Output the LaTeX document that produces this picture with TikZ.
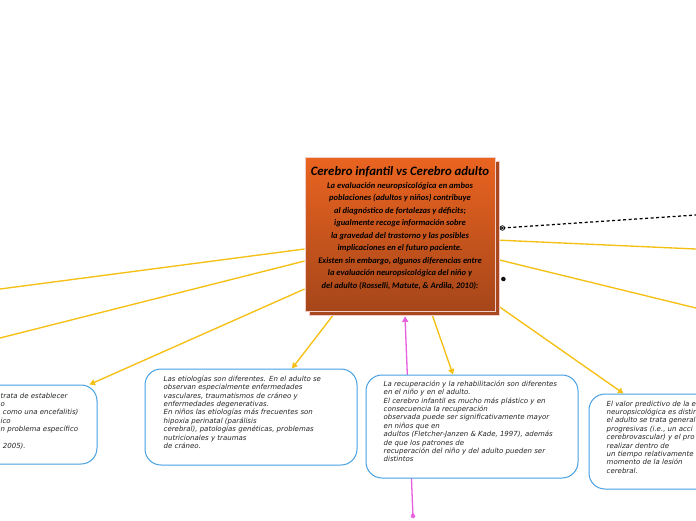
\documentclass[tikz,border=0pt]{standalone}
\usepackage{fontspec}
\setmainfont{DejaVu Sans}
\newfontfamily\handfont{Carlito}
\usetikzlibrary{calc,arrows.meta,shadows}
\pgfdeclarelayer{bgfill}
\pgfdeclarelayer{background}
\pgfsetlayers{bgfill,background,main}
\definecolor{yline}{RGB}{245,192,20}
\definecolor{pline}{RGB}{232,95,222}
\definecolor{bbord}{RGB}{70,160,225}
\definecolor{otop}{RGB}{234,100,32}
\definecolor{obot}{RGB}{166,70,26}
\definecolor{shad}{RGB}{168,72,30}
\definecolor{sbord}{RGB}{242,205,200}
\begin{document}
\begin{tikzpicture}[x=1pt,y=-1pt,
  yconn/.style={draw=yline, line width=1.35pt},
  yarrow/.style={yconn, -{Triangle[length=5.5pt,width=6pt]}},
  parrow/.style={draw=pline, line width=1.3pt, -{Triangle[length=5.5pt,width=6pt]}},
  dconn/.style={draw=black, line width=1.25pt, dash pattern=on 3pt off 2.5pt},
  infobox/.style={draw=bbord, line width=1pt, rounded corners=16pt, fill=white, inner sep=0pt},
  infotext/.style={font=\fontsize{7}{8.4}\selectfont\itshape, text=black!85, align=left, anchor=north west, inner sep=0pt},
  mainbox/.style={draw=sbord, line width=0.8pt, top color=otop, bottom color=obot, minimum width=190pt, minimum height=154pt, inner sep=0pt,
    general shadow={shadow xshift=4pt, shadow yshift=-4pt, fill=shad, draw=sbord, line width=0.8pt}},
  maintext/.style={align=center, inner sep=0pt, text=black, font=\handfont\bfseries\itshape\fontsize{8.5}{12.5}\selectfont},
]
\useasboundingbox (0,0) rectangle (696,520);
\clip (0,0) rectangle (696,520);
\begin{pgfonlayer}{bgfill}
\fill[white] (0,0) rectangle (696,520);
\end{pgfonlayer}

% central node
\node[mainbox] (main) at (400,234) {};
\node[maintext] (mt) at ($(main.center)+(0,-6)$) {{\fontsize{12.8}{14}\selectfont Cerebro infantil vs Cerebro adulto}\\[0.5pt]
La evaluación neuropsicológica en ambos\\
poblaciones (adultos y niños) contribuye\\
al diagnóstico de fortalezas y déficits;\\
igualmente recoge información sobre\\
la gravedad del trastorno y las posibles\\
implicaciones en el futuro paciente.\\
Existen sin embargo, algunos diferencias entre\\
la evaluación neuropsicológica del niño y\\
del adulto (Rosselli, Matute, \& Ardila, 2010):};

% boxes
\node[infobox, minimum width=227pt, minimum height=79pt] (b1) at (-16.5,424.5) {};
\node[infobox, minimum width=212pt, minimum height=96pt] (b2) at (251,417) {};
\node[infobox, minimum width=212pt, minimum height=103pt] (b3) at (472,426.5) {};
\node[infobox, minimum width=211pt, minimum height=95pt] (b4) at (694.5,441.5) {};

\node[infotext] (t1) at ($(b1.north east)+(-97,8)$) {trata de establecer\\o\\ \ como una encefalitis)\\ico\\n problema específico\\ \\ \ 2005).};
\node[infotext] (t2) at ($(b2.north west)+(19,7)$) {Las etiologías son diferentes. En el adulto se\\
observan especialmente enfermedades\\
vasculares, traumatismos de cráneo y\\
enfermedades degenerativas.\\
En niños las etiologías más frecuentes son\\
hipoxia perinatal (parálisis\\
cerebral), patologías genéticas, problemas\\
nutricionales y traumas\\
de cráneo.};
\node[infotext] (t3) at ($(b3.north west)+(18,6)$) {La recuperación y la rehabilitación son diferentes\\
en el niño y en el adulto.\\
El cerebro infantil es mucho más plástico y en\\
consecuencia la recuperación\\
observada puede ser significativamente mayor\\
en niños que en\\
adultos (Fletcher-Janzen \& Kade, 1997), además\\
de que los patrones de\\
recuperación del niño y del adulto pueden ser\\
distintos};
\node[infotext] (t4) at ($(b4.north west)+(18,7)$) {El valor predictivo de la e\\
neuropsicológica es distin\\
el adulto se trata general\\
progresivas (i.e., un acci\\
cerebrovascular) y el pro\\
realizar dentro de\\
un tiempo relativamente\\
momento de la lesión\\
cerebral.};

% free ends
\coordinate (e1) at (0,289);
\coordinate (e2) at (0,338);
\coordinate (e7) at (696,249);
\coordinate (e8) at (696,308);
\coordinate (ed) at (696,215);
\coordinate (pk) at (413,517);

\begin{pgfonlayer}{background}
  \draw[yconn] ($(main.west)+(0,15)$) -- (e1);
  \draw[yconn] ($(main.west)+(0,27)$) -- (e2);
  \draw[yarrow] ($(main.west)+(0,55)$) -- ($(b1.north east)+(-8,0)$);
  \draw[yarrow] ($(main.south)+(-64,0)$) -- ($(b2.north)+(41,0)$);
  \draw[yarrow] ($(main.south)+(31,0)$) -- ($(b3.north)+(-19,0)$);
  \draw[yarrow] ($(main.east)+(0,70)$) -- ($(b4.north west)+(35,0)$);
  \draw[yconn] ($(main.east)+(0,6)$) -- (e7);
  \draw[yconn] ($(main.east)+(0,25)$) -- (e8);
  \draw[parrow] (pk) -- ($(main.south)+(5,5)$);
\end{pgfonlayer}
\draw[dconn] ($(main.east)+(7,-6)$) -- (ed);
\draw[black, line width=0.7pt, fill=white] ($(main.east)+(7,-6)$) circle (2.3pt);
\draw[black, line width=0.6pt] ($(main.east)+(7,-6)+(45:1.6pt)$) -- ($(main.east)+(7,-6)+(225:1.6pt)$)
  ($(main.east)+(7,-6)+(135:1.6pt)$) -- ($(main.east)+(7,-6)+(315:1.6pt)$);
% small marks
\foreach \a in {0,72,144,216,288} \fill[black] ($(main.east)+(8,45)+(\a:1.3pt)$) circle (1.2pt);
\foreach \a in {0,72,144,216,288} \fill[pline] ($(pk)+(0,-1)+(\a:1.3pt)$) circle (1.2pt);
\end{tikzpicture}
\end{document}
